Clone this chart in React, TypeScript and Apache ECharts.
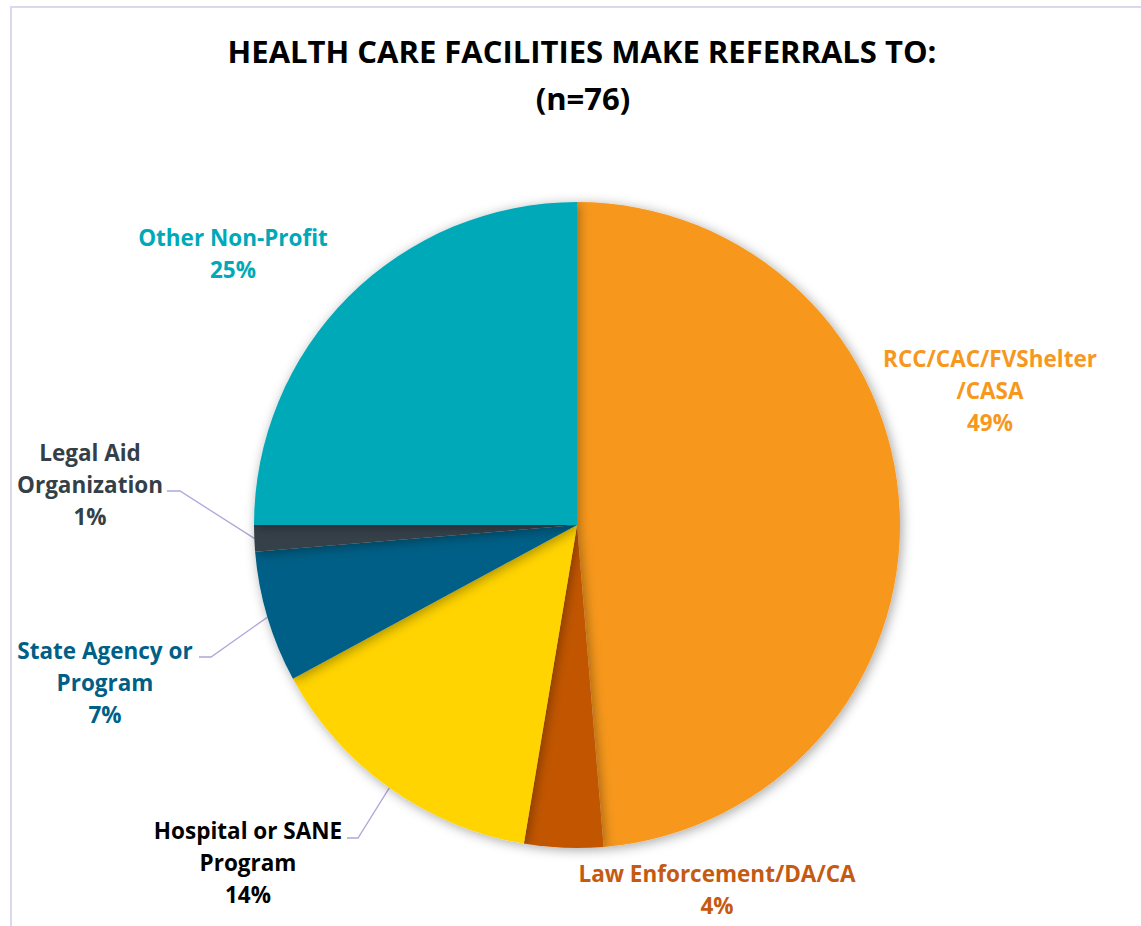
import React, { useEffect, useRef } from "react";
import * as echarts from "echarts";

const TITLE_LINE_1 = "HEALTH CARE FACILITIES MAKE REFERRALS TO:";
const TITLE_LINE_2 = "(n=76)";

const categories = [
  "RCC/CAC/FVShelter\n/CASA",
  "Law Enforcement/DA/CA",
  "Hospital or SANE\nProgram",
  "State Agency or\nProgram",
  "Legal Aid\nOrganization",
  "Other Non-Profit",
];
const counts = [37, 3, 11, 5, 1, 19];
const sliceColors = ["#F7981E", "#C25700", "#FFD400", "#005F86", "#343F48", "#00A9B8"];
const labelColors = ["#F7981E", "#C55A11", "#000000", "#005F86", "#343F48", "#00A9B8"];

// label anchor (center of text block) and leader-line bend/end points
const labelLayoutSpec = [
  { x: 990, y: 390, line: null },
  { x: 717, y: 889, line: null },
  { x: 248, y: 862, line: [[358, 838], [347, 838]] },
  { x: 105, y: 682, line: [[211, 657], [199, 657]] },
  { x: 90, y: 484, line: [[180, 491], [167, 491]] },
  { x: 233, y: 253, line: null },
];

const FONT = "'Open Sans', Lato, sans-serif";

export default function App() {
  const ref = useRef<HTMLDivElement>(null);
  useEffect(() => {
    if (!ref.current) return;
    const chart = echarts.init(ref.current, undefined, { renderer: "svg" });
    chart.setOption({
      animation: false,
      backgroundColor: "#ffffff",
      title: [
        {
          text: TITLE_LINE_1,
          left: 577,
          top: 30,
          textAlign: "center",
          textStyle: { fontFamily: FONT, fontWeight: "bold", fontSize: 31, color: "#000" },
        },
        {
          text: TITLE_LINE_2,
          left: 578,
          top: 77,
          textAlign: "center",
          textStyle: { fontFamily: FONT, fontWeight: "bold", fontSize: 31, color: "#000" },
        },
      ],
      graphic: [
        {
          type: "rect",
          shape: { x: 11, y: 7, width: 1300, height: 1100 },
          style: { fill: "none", stroke: "#D9D8EC", lineWidth: 2 },
          silent: true,
        },
      ],
      series: [
        {
          type: "pie",
          center: [577, 525],
          radius: 323,
          startAngle: 90,
          clockwise: true,
          avoidLabelOverlap: false,
          percentPrecision: 0,
          itemStyle: {
            shadowBlur: 12,
            shadowColor: "rgba(0,0,0,0.35)",
            shadowOffsetX: 2,
            shadowOffsetY: 2,
          },
          label: {
            show: true,
            position: "outside",
            formatter: "{b}\n{d}%",
            fontFamily: FONT,
            fontWeight: "bold",
            fontSize: 22.5,
            lineHeight: 32,
            align: "center",
          },
          labelLine: {
            show: true,
            lineStyle: { color: "#ADA8D8", width: 1.3 },
          },
          labelLayout: (params: any) => {
            const spec = labelLayoutSpec[params.dataIndex];
            const res: any = {
              x: spec.x,
              y: spec.y,
              align: "center",
              verticalAlign: "middle",
              hideOverlap: false,
            };
            if (spec.line && params.labelLinePoints) {
              const edge = params.labelLinePoints[0];
              res.labelLinePoints = [edge, spec.line[0], spec.line[1]];
            }
            return res;
          },
          data: categories.map((name, i) => ({
            name,
            value: counts[i],
            itemStyle: { color: sliceColors[i] },
            label: { color: labelColors[i] },
            labelLine: { show: labelLayoutSpec[i].line !== null },
          })),
        },
      ],
    });
    return () => chart.dispose();
  }, []);
  return (
    <div
      ref={ref}
      style={{ position: "fixed", left: 0, top: 0, width: 1141, height: 926 }}
    />
  );
}
